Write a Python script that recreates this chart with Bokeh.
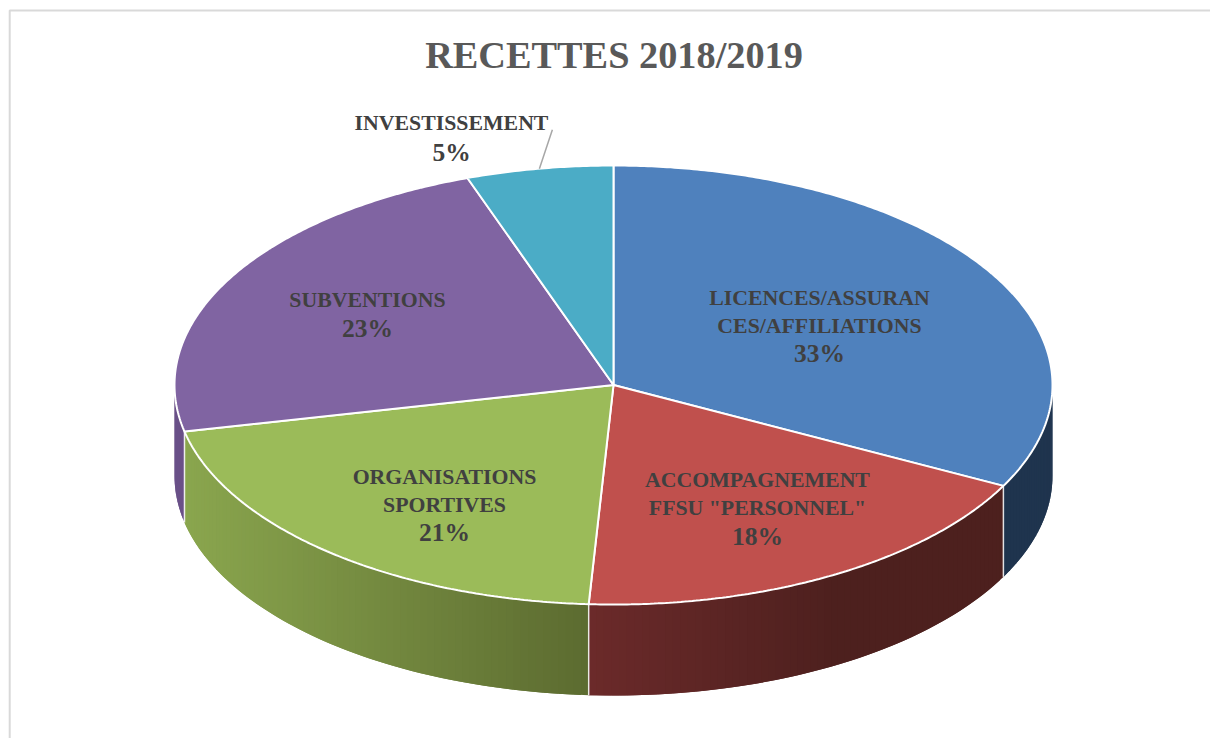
import numpy as np
from bokeh.embed import file_html
from bokeh.resources import INLINE
from bokeh.plotting import figure
from bokeh.core.properties import value

# --- chart data
title = "RECETTES 2018/2019"
categories = ["LICENCES/ASSURANCES/AFFILIATIONS", 'ACCOMPAGNEMENT FFSU "PERSONNEL"',
              "ORGANISATIONS SPORTIVES", "SUBVENTIONS", "INVESTISSEMENT"]
shares = [32.6, 18.3, 20.7, 23.0, 5.4]
pct_labels = ["33%", "18%", "21%", "23%", "5%"]
name_lines = [["LICENCES/ASSURAN", "CES/AFFILIATIONS"],
              ["ACCOMPAGNEMENT", 'FFSU "PERSONNEL"'],
              ["ORGANISATIONS", "SPORTIVES"],
              ["SUBVENTIONS"],
              ["INVESTISSEMENT"]]

# --- style / layout
top_colors = ["#4f81bd", "#c0504d", "#9bbb59", "#8064a2", "#4bacc6"]
side_left = ["#1f344e", "#6b2a2a", "#8aa64e", "#6a5088", "#3a8aa0"]
side_right = ["#1f344e", "#4d201e", "#5c6b30", "#6a5088", "#3a8aa0"]
grad_span = [1.0, 0.6, 1.0, 1.0, 1.0]
label_x = [819, 757, 444, 367, 451]
name_y = [[297, 325], [479, 507], [476, 504], [299], [122]]
pct_y = [353, 536, 532, 328, 152]
cx, cy, rx, ry, depth = 613.0, 384.5, 439.0, 219.5, 91
W, H = 1210, 738

p = figure(width=W, height=H, x_range=(0, W), y_range=(H, 0),
           output_backend="svg", toolbar_location=None, min_border=0,
           background_fill_color="white", border_fill_color="white")
p.axis.visible = False
p.grid.visible = False
p.outline_line_color = None

# outer chart frame (top and left only in view)
p.line([9.2, 9.2, W], [H, 10, 10], line_color="#d9d9d9", line_width=2)


def pt(a, dz=0.0):
    a = np.radians(a)
    return cx + rx * np.sin(a), cy - ry * np.cos(a) + dz


def hex2rgb(h):
    return np.array([int(h[i:i + 2], 16) for i in (1, 3, 5)], float)


def lerp(c0, c1, t):
    c = hex2rgb(c0) * (1 - t) + hex2rgb(c1) * t
    return "#%02x%02x%02x" % tuple(int(round(v)) for v in c)


edges = np.concatenate([[0], np.cumsum(shares)]) / np.sum(shares) * 360

# side wall: vertical strips shaded along x, each overlapping the next to avoid seams
xs, ys, cols = [], [], []
for i in range(len(shares)):
    a0, a1 = max(edges[i], 90), min(edges[i + 1], 270)
    if a1 <= a0:
        continue
    aa = np.linspace(a0, a1, int(a1 - a0) + 2)
    x_left, x_right = pt(a1)[0], pt(a0)[0]
    for k in range(len(aa) - 1):
        u, v = aa[k], aa[min(k + 2, len(aa) - 1)]
        x0, y0 = pt(u)
        x1, y1 = pt(v)
        xm = pt((aa[k] + aa[k + 1]) / 2)[0]
        # 0 at the slice's left end, 1 at its right end, span compresses the ramp
        t = min((xm - x_left) / (x_right - x_left) / grad_span[i], 1.0)
        xs.append([x0, x1, x1, x0])
        ys.append([y0, y1, y1 + depth, y0 + depth])
        cols.append(lerp(side_left[i], side_right[i], t))
p.patches(xs, ys, fill_color=cols, line_color=None)

# white separators on the wall
for e in edges:
    if 90 < e < 270:
        x0, y0 = pt(e)
        p.line([x0, x0], [y0, y0 + depth], line_color="white", line_width=1.5, line_alpha=0.85)

# top face
for i in range(len(shares)):
    aa = np.linspace(edges[i], edges[i + 1], int(edges[i + 1] - edges[i]) * 2 + 2)
    px, py = pt(aa)
    p.patch(np.r_[cx, px], np.r_[cy, py], fill_color=top_colors[i], line_color="white", line_width=2)

# leader of the last slice, from the middle of its arc
lx, ly = pt((edges[-2] + edges[-1]) / 2)
p.line([lx, lx + 13], [ly, ly - 39], line_color="#a6a6a6", line_width=1.5)

# labels
font = value("Liberation Serif")
for lines, x, yy, pct, py_ in zip(name_lines, label_x, name_y, pct_labels, pct_y):
    p.text([x] * len(lines), yy, text=lines, text_font=font, text_font_style="bold",
           text_font_size="21.8px", text_color="#404040", text_align="center", text_baseline="middle")
    p.text([x], [py_], text=[pct], text_font=font, text_font_style="bold",
           text_font_size="25.5px", text_color="#404040", text_align="center", text_baseline="middle")
p.text([613.5], [54], text=[title], text_font=font, text_font_style="bold",
       text_font_size="38.3px", text_color="#595959", text_align="center", text_baseline="middle")

open("out.html", "w").write(file_html(p, INLINE))
